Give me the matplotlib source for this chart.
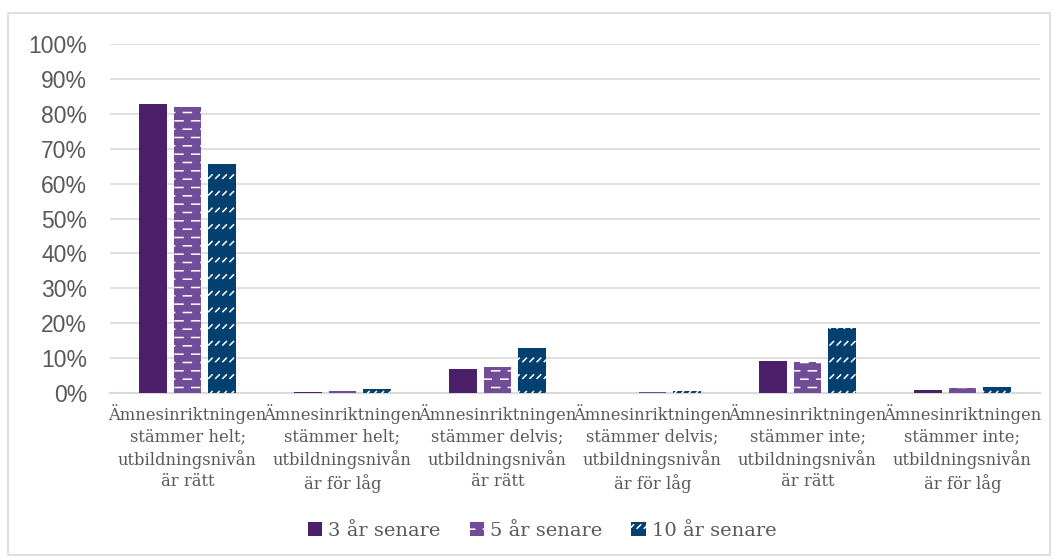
import warnings

import matplotlib

matplotlib.use("Agg")
import matplotlib.pyplot as plt
import numpy as np
from matplotlib import hatch as mhatch
from matplotlib.patches import Rectangle
from matplotlib.path import Path
from matplotlib.ticker import FuncFormatter

warnings.filterwarnings("ignore")

categories = [
    "Ämnesinriktningen\nstämmer helt;\nutbildningsnivån\när rätt",
    "Ämnesinriktningen\nstämmer helt;\nutbildningsnivån\när för låg",
    "Ämnesinriktningen\nstämmer delvis;\nutbildningsnivån\när rätt",
    "Ämnesinriktningen\nstämmer delvis;\nutbildningsnivån\när för låg",
    "Ämnesinriktningen\nstämmer inte;\nutbildningsnivån\när rätt",
    "Ämnesinriktningen\nstämmer inte;\nutbildningsnivån\när för låg",
]
series_names = ["3 år senare", "5 år senare", "10 år senare"]
after_3_years = [82.8, 0.4, 6.9, 0.0, 9.2, 0.9]
after_5_years = [82.0, 0.6, 7.5, 0.3, 9.0, 1.3]
after_10_years = [65.6, 1.1, 12.9, 0.5, 18.6, 1.7]

colors = ["#4C1F6A", "#714C99", "#03406F"]
TEXT = "#595959"


class DashedRows(mhatch.HatchPatternBase):
    """Brick-like rows of short horizontal dashes ('k' in the hatch string)."""

    rows, per_row, length = 12, 6, 0.08

    def __init__(self, hatch, density):
        self.num_lines = self.rows * (self.per_row + 1) if "k" in hatch else 0
        self.num_vertices = self.num_lines * 2

    def set_vertices_and_codes(self, vertices, codes):
        segs = []
        for r in range(self.rows):
            y = (r + 0.5) / self.rows
            shift = 0.5 / self.per_row if r % 2 else 0.0
            for i in range(self.per_row + 1):
                x0 = i / self.per_row + shift - 1 / self.per_row
                segs.append(((x0, y), (x0 + self.length, y)))
        segs = np.array(segs[: self.num_lines])
        vertices[0::2] = segs[:, 0]
        vertices[1::2] = segs[:, 1]
        codes[0::2] = Path.MOVETO
        codes[1::2] = Path.LINETO


class DashedDiagonals(mhatch.HatchPatternBase):
    """Rows of short upward diagonal dashes ('d' in the hatch string)."""

    rows, per_row, size = 6, 14, 0.035

    def __init__(self, hatch, density):
        self.num_lines = self.rows * self.per_row if "d" in hatch else 0
        self.num_vertices = self.num_lines * 2

    def set_vertices_and_codes(self, vertices, codes):
        segs = []
        for r in range(self.rows):
            y = (r + 0.3) / self.rows
            for i in range(self.per_row):
                x = (i + 0.2) / self.per_row
                segs.append(((x, y), (x + self.size, y + self.size)))
        segs = np.array(segs)
        vertices[0::2] = segs[:, 0]
        vertices[1::2] = segs[:, 1]
        codes[0::2] = Path.MOVETO
        codes[1::2] = Path.LINETO


mhatch._hatch_types.extend([DashedRows, DashedDiagonals])

plt.rcParams["hatch.color"] = "white"
plt.rcParams["hatch.linewidth"] = 1.1

fig = plt.figure(figsize=(10.57, 5.6), dpi=100)
fig.patches.append(
    Rectangle((8 / 1057, 5 / 560), 1042 / 1057, 542 / 560, transform=fig.transFigure,
              fill=False, edgecolor="#D9D9D9", linewidth=1.2)
)
ax = fig.add_axes([110 / 1057, 167 / 560, 930 / 1057, 349 / 560])

x = np.arange(len(categories))
width = 0.18
step = 0.222
hatches = ["", "k", "d"]
for k, (vals, name) in enumerate(zip([after_3_years, after_5_years, after_10_years], series_names)):
    ax.bar(x + (k - 1) * step, np.array(vals) / 100, width, color=colors[k],
           hatch=hatches[k], label=name, zorder=3, linewidth=0)

ax.set_xlim(-0.5, len(categories) - 0.5)
ax.set_ylim(0, 1)
ax.set_yticks(np.arange(0, 1.01, 0.1))
ax.yaxis.set_major_formatter(FuncFormatter(lambda v, _: f"{v * 100:.0f}%"))
ax.grid(axis="y", color="#D9D9D9", linewidth=1.2, zorder=0)
for side in ["top", "right", "left"]:
    ax.spines[side].set_visible(False)
ax.spines["bottom"].set_color("#D9D9D9")
ax.spines["bottom"].set_linewidth(1.5)
ax.tick_params(axis="both", length=0)
ax.tick_params(axis="y", labelsize=16.5, labelcolor=TEXT, pad=16.5)
for lbl in ax.get_yticklabels():
    lbl.set_family("Liberation Sans")

ax.set_xticks(x)
ax.set_xticklabels(categories, family="DejaVu Serif", fontsize=11.8, color=TEXT,
                   linespacing=1.33)
ax.tick_params(axis="x", pad=8)

leg = fig.legend(loc="center", bbox_to_anchor=(542 / 1057, 1 - 531 / 560), ncol=3,
                 frameon=False, handlelength=0.75, handleheight=0.75,
                 handletextpad=0.3, columnspacing=1.5,
                 prop={"family": "DejaVu Serif", "size": 14})
for t in leg.get_texts():
    t.set_color(TEXT)

fig.savefig("out.png", dpi=100)
